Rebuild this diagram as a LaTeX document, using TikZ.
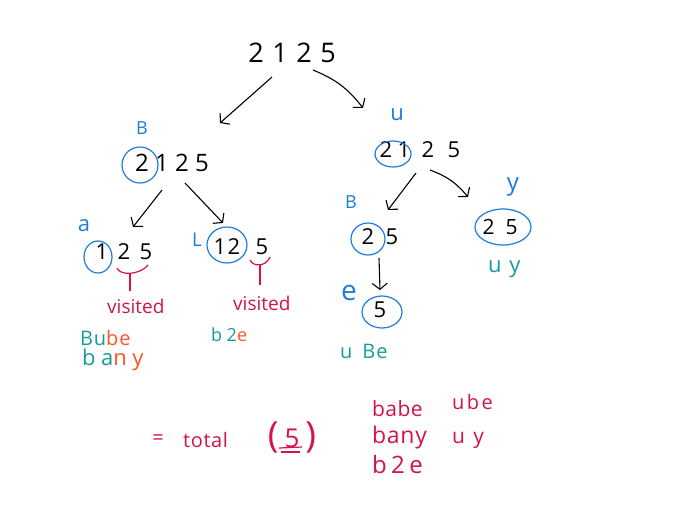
\documentclass[tikz,border=0pt]{standalone}
\usepackage{fontspec}
\setmainfont{Open Sans}
\usetikzlibrary{arrows.meta,calc}
\definecolor{hblue}{HTML}{1E7DDC}
\definecolor{hteal}{HTML}{1A9B9B}
\definecolor{horange}{HTML}{FF5526}
\definecolor{hred}{HTML}{D3134A}
\newcommand\dg[2]{\makebox[#1pt]{#2}}
\begin{document}
\begin{tikzpicture}[x=1pt,y=-1pt,
  num/.style={inner sep=0pt,font=\fontsize{#1}{#1}\selectfont},
  lbl/.style={inner sep=0pt,text=hblue,font=\fontsize{#1}{#1}\selectfont},
  word/.style 2 args={inner sep=0pt,anchor=base west,font=\fontsize{#1}{#1}\selectfont\addfontfeature{LetterSpace=#2}},
  ring/.style={draw=hblue,line width=1.2pt},
  arr/.style={draw=black,line width=1.1pt,-{Straight Barb[length=6pt,width=15pt]}},
  brk/.style={draw=hred,line width=1.2pt},
]
\useasboundingbox (0,0) rectangle (700,525);
\fill[white] (0,0) rectangle (700,525);

% tree nodes
\node[num=27] (root) at (292,53) {\dg{24}{2}\dg{24}{1}\dg{24}{2}\dg{24}{5}};
\node[num=24] (B) at (172,163) {\dg{20}{2}\dg{20}{1}\dg{20}{2}\dg{20}{5}};
\node[num=22] (a) at (124,252) {\dg{22}{1}\dg{22}{2}\dg{22}{5}};
\node[num=22] (L) at (248,247) {\dg{14}{1}\dg{14}{2}\dg{42}{5}};
\node[num=22] (u) at (421,150) {\dg{18}{2}\dg{18}{1}\dg{30}{2}\dg{22}{5}};
\node[num=22] (rB) at (380,237) {\dg{24}{2}\dg{24}{5}};
\node[num=21] (y) at (500,227) {\dg{23}{2}\dg{23}{5}};
\node[num=22] (e) at (380,310) {5};

% rings
\draw[ring] (140,165) ellipse [x radius=18, y radius=18];
\draw[ring] (98,257) ellipse [x radius=14, y radius=16];
\draw[ring] (227,245) ellipse [x radius=20, y radius=18];
\draw[ring] (393,154) ellipse [x radius=18, y radius=13];
\draw[ring] (503,227) ellipse [x radius=28, y radius=18];
\draw[ring] (368,239) ellipse [x radius=17, y radius=16];
\draw[ring] (382,312) ellipse [x radius=20, y radius=16];

% blue labels
\node[lbl=18] (lB) at (142,128) {B};
\node[lbl=22] (la) at (84,226) {a};
\node[lbl=19] (lL) at (197,240) {L};
\node[lbl=22] (lu) at (397,115) {u};
\node[lbl=24] (ly) at (513,187) {y};
\node[lbl=18] (lrB) at (351,202) {B};
\node[lbl=28] (le) at (349,293) {e};

% arrows
\draw[arr] ($(root)+(-20,24)$) -- ($(B)+(48,-40)$);
\draw[arr] ($(root)+(21,17)$) to[bend left=15] ($(u)+(-58,-42)$);
\draw[arr] ($(B)+(-10,27)$) -- ($(a)+(9,-25)$);
\draw[arr] ($(B)+(13,20)$) -- ($(L)+(-25,-24)$);
\draw[arr] ($(u)+(-5,23)$) -- ($(rB)+(8,-27)$);
\draw[arr] ($(u)+(9,20)$) to[bend left=15] ($(y)+(-32,-30)$);
\draw[arr] ($(rB)+(-1,21)$) -- ($(e)+(0,-20)$);

% visited brackets
\node[word={19}{0},text=hred] (v1) at (107,313) {visited};
\node[word={19}{0},text=hred] (v2) at (233,310) {visited};
\draw[brk] (117,268) .. controls (120,276) and (140,275) .. (148,265);
\draw[brk] (130,273) -- (130,291);
\draw[brk] (250,260) .. controls (253,267) and (266,267) .. (270,257);
\draw[brk] (260,265) -- (260,285);

% path words
\node[word={20}{4},text=hteal] (w1) at (80,345) {Bu\textcolor{horange}{be}};
\node[word={22}{25},text=hteal] (w2) at (82,365) {ba\textcolor{horange}{ny}};
\node[word={18}{25},text=hteal] (w3) at (211,341) {b2\textcolor{horange}{e}};
\node[word={22}{35},text=hteal] (w4) at (488,272) {uy};
\node[word={20}{5},text=hteal] (w5) at (340,358) {u\kern10pt Be};

% total
\node[inner sep=0pt,text=hred,font=\fontsize{20}{20}\selectfont] (eq) at (158,440) {=};
\node[word={20}{3},text=hred] (tot) at (183,447) {total};
\node[inner sep=0pt,text=hred,font=\fontsize{26}{26}\selectfont] (five) at (292,437) {{\fontsize{36}{36}\selectfont(}\kern6pt 5\kern6pt{\fontsize{36}{36}\selectfont)}};
\draw[brk] (279,448) -- (302,447);
\draw[brk] (281,452) -- (300,452);

\node[word={21}{2},text=hred] (r1) at (372,416) {babe};
\node[word={20}{12},text=hred] (r2) at (452,409) {ube};
\node[word={23}{3},text=hred] (r3) at (372,443) {bany};
\node[word={21}{40},text=hred] (r4) at (452,443) {uy};
\node[word={24}{18},text=hred] (r5) at (372,473) {b2e};
\end{tikzpicture}
\end{document}
